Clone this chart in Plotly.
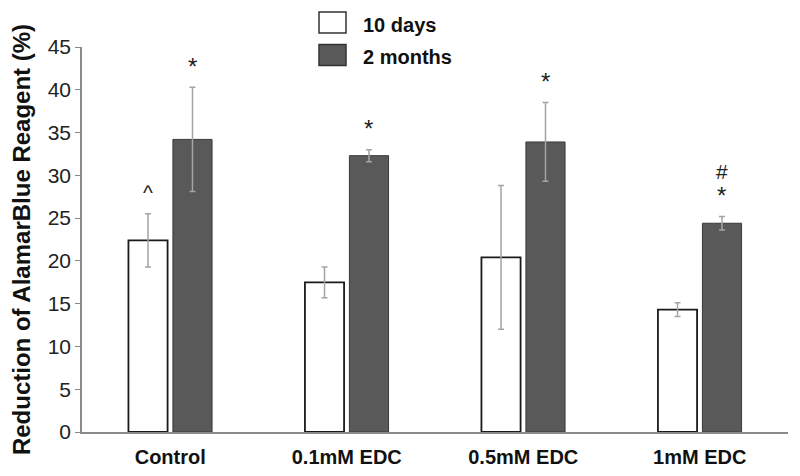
import plotly.graph_objects as go

categories = ["Control", "0.1mM EDC", "0.5mM EDC", "1mM EDC"]
days10 = [22.4, 17.5, 20.4, 14.3]
days10_err = [3.1, 1.8, 8.4, 0.8]
months2 = [34.2, 32.3, 33.9, 24.4]
months2_err = [6.1, 0.7, 4.6, 0.8]
yticks = [0, 5, 10, 15, 20, 25, 30, 35, 40, 45]
# significance marks: (category, series, text)
sig_marks = [
    ("Control", "10 days", "^"),
    ("Control", "2 months", "*"),
    ("0.1mM EDC", "2 months", "*"),
    ("0.5mM EDC", "2 months", "*"),
    ("1mM EDC", "2 months", "*"),
    ("1mM EDC", "2 months", "#"),
]

fig = go.Figure()
err_style = dict(type="data", color="#a4a4a4", thickness=1.5, width=3)
fig.add_trace(go.Bar(
    name="10 days", x=categories, y=days10,
    error_y=dict(array=days10_err, **err_style),
    marker=dict(color="white", line=dict(color="#1a1a1a", width=1.8)),
))
fig.add_trace(go.Bar(
    name="2 months", x=categories, y=months2,
    error_y=dict(array=months2_err, **err_style),
    marker=dict(color="#595959", line=dict(color="#3a3a3a", width=1)),
))

# significance annotations placed above error bars
bargap, groupgap = 0.496, 0.12
slot = (1 - bargap) / 2
vals = {"10 days": (days10, days10_err, -slot / 2), "2 months": (months2, months2_err, slot / 2)}
counts = {}
for cat, ser, txt in sig_marks:
    v, e, off = vals[ser]
    i = categories.index(cat)
    top = v[i] + e[i]
    k = counts.get((cat, ser), 0)
    counts[(cat, ser)] = k + 1
    fig.add_annotation(
        x=i + off, y=top, xref="x", yref="y", text=txt, showarrow=False,
        yshift=21 + 24 * k, font=dict(family="Liberation Sans, Arial", size=24 if txt == "*" else 21,
                                       color="#222"),
    )

# legend drawn manually to match the large swatches
legend_items = [("10 days", "white", "#333"), ("2 months", "#595959", "#333")]
for j, (name, fill, line) in enumerate(legend_items):
    y0 = 476 - 12 - j * 32.5
    fig.add_shape(type="rect", xref="paper", yref="paper",
                  x0=(319 - 82) / 706, x1=(346 - 82) / 706,
                  y0=(y0 - 21 - 44) / 385, y1=(y0 - 44) / 385,
                  fillcolor=fill, line=dict(color=line, width=1.5))
    fig.add_annotation(xref="paper", yref="paper", x=(361 - 82) / 706, y=(y0 - 13 - 44) / 385,
                       text="<b>%s</b>" % name, showarrow=False, xanchor="left", yanchor="middle",
                       font=dict(family="Liberation Sans, Arial", size=20, color="#111"))

fig.update_layout(
    width=800, height=476,
    margin=dict(l=74, r=20, t=39, b=52, autoexpand=False),
    paper_bgcolor="white", plot_bgcolor="white",
    barmode="group", bargap=bargap, bargroupgap=groupgap,
    showlegend=False,
    font=dict(family="Liberation Sans, Arial", color="#222"),
)
fig.update_xaxes(
    showline=True, linecolor="#8a8a8a", linewidth=1.5, ticks="", automargin=False,
    tickfont=dict(size=20, color="#111"), showgrid=False, ticklabelstandoff=6,
    tickvals=categories, ticktext=["<b>%s</b>" % c for c in categories],
)
fig.update_yaxes(
    range=[0, 45], tickvals=yticks, showline=True, linecolor="#8a8a8a", linewidth=1.5,
    ticks="outside", ticklen=5, tickcolor="#8a8a8a", showgrid=False, zeroline=False,
    automargin=False, tickfont=dict(size=21, color="#222"),
    title=dict(text="<b>Reduction of AlamarBlue Reagent (%)</b>", font=dict(size=24, color="#111"), standoff=15),
)

fig.write_html("out.html")
